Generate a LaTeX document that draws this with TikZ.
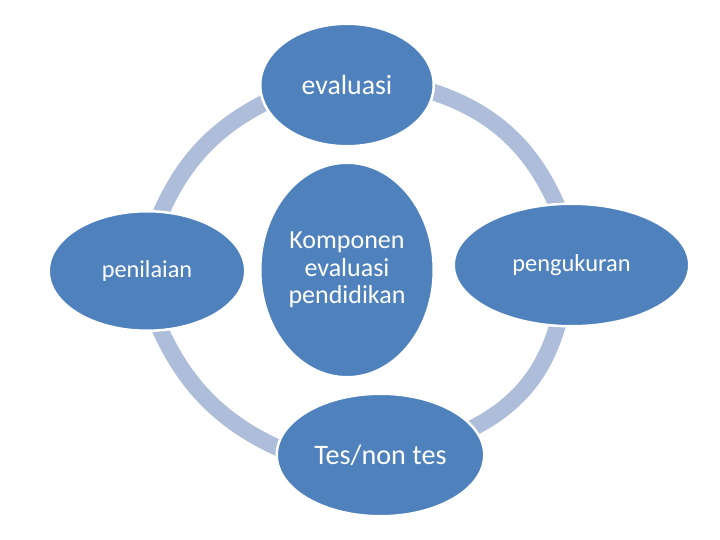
\documentclass[tikz,border=0pt]{standalone}
\usepackage{fontspec}
\setmainfont{Carlito}
\usetikzlibrary{shapes.geometric,calc}
\definecolor{blob}{RGB}{79,129,189}
\definecolor{band}{RGB}{174,189,218}
\begin{document}
\begin{tikzpicture}[x=1pt,y=-1pt,
  blobstyle/.style={ellipse, fill=blob, draw=white, line width=2.5pt, inner sep=0pt, text=white, align=center},
  ringband/.style={draw=band, line width=16.5pt, line cap=butt, shorten <=-8pt, shorten >=-8pt}]
\useasboundingbox (0,0) rectangle (720,540);
\fill[white] (0,0) rectangle (720,540);
% ring band end points and quadratic control points
\coordinate (tl1) at (163,208);   \coordinate (tl2) at (262,104);   \coordinate (tlq) at (193.2,137.6);
\coordinate (tr1) at (435,92.5);  \coordinate (tr2) at (555.5,202); \coordinate (trq) at (520.7,119);
\coordinate (br1) at (557.5,326); \coordinate (br2) at (475,427);   \coordinate (brq) at (539.3,395.4);
\coordinate (bl1) at (161.7,333); \coordinate (bl2) at (277,447.5); \coordinate (blq) at (196.7,412.9);
\draw[ringband] (tl1) .. controls ($(tl1)!2/3!(tlq)$) and ($(tl2)!2/3!(tlq)$) .. (tl2);
\draw[ringband] (tr1) .. controls ($(tr1)!2/3!(trq)$) and ($(tr2)!2/3!(trq)$) .. (tr2);
\draw[ringband] (br1) .. controls ($(br1)!2/3!(brq)$) and ($(br2)!2/3!(brq)$) .. (br2);
\draw[ringband] (bl1) .. controls ($(bl1)!2/3!(blq)$) and ($(bl2)!2/3!(blq)$) .. (bl2);
% ellipses
\node[blobstyle, minimum width=173.5pt, minimum height=122.5pt, font=\fontsize{27.8pt}{30pt}\selectfont] (eva) at (347,85) {evaluasi};
\node[blobstyle, minimum width=196.5pt, minimum height=119.5pt, font=\fontsize{24.3pt}{28pt}\selectfont] (pen) at (147,271) {penilaian};
\node[blobstyle, minimum width=235.5pt, minimum height=122.5pt, font=\fontsize{24.4pt}{28pt}\selectfont] (peng) at (571.5,265) {pengukuran};
\node[blobstyle, minimum width=173.5pt, minimum height=214.5pt, font=\fontsize{26pt}{27.5pt}\selectfont] (mid) at (347,270) {Komponen\\evaluasi\\pendidikan};
\node[blobstyle, minimum width=207.5pt, minimum height=122.5pt, font=\fontsize{28.2pt}{30pt}\selectfont] (tes) at (380.5,455) {Tes/non tes};
\end{tikzpicture}
\end{document}
